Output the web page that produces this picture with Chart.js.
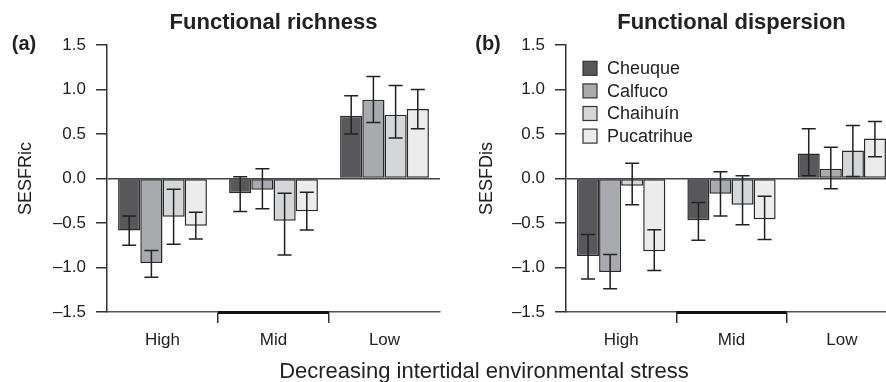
<!DOCTYPE html>
<html>
<head>
<meta charset="utf-8">
<script src="https://cdn.jsdelivr.net/npm/chart.js@4.4.1/dist/chart.umd.min.js"></script>
<style>
  html, body { margin: 0; padding: 0; background: #fff; overflow: hidden; width: 886px; height: 382px; }
  #wrap { position: relative; width: 886px; height: 382px; overflow: hidden; }
  #ca { position: absolute; left: 0; top: 0; }
  #cb { position: absolute; left: 443px; top: 0; }
  #xlab { position: absolute; left: 0; width: 968px; top: 357px; text-align: center;
          font-family: 'Liberation Sans', Arial, sans-serif; font-size: 22px; color: #222; line-height: 28px; }
</style>
</head>
<body>
<div id="wrap">
  <canvas id="ca" width="443" height="382"></canvas>
  <canvas id="cb" width="457" height="382"></canvas>
  <div id="xlab">Decreasing intertidal environmental stress</div>
</div>
<script>
// ---------- DATA ----------
const categories = ['High', 'Mid', 'Low'];
const seriesNames = ['Cheuque', 'Calfuco', 'Chaihuín', 'Pucatrihue'];
const yTicks = [-1.5, -1.0, -0.5, 0.0, 0.5, 1.0, 1.5];

// Functional richness (SESFRic): means, lower and upper error-bar ends
const cheuqueRic     = [-0.585, -0.165, 0.705];
const calfucoRic     = [-0.95, -0.127, 0.885];
const chaihuinRic    = [-0.43, -0.476, 0.717];
const pucatrihueRic  = [-0.53, -0.367, 0.78];
const cheuqueRicLo    = [-0.75, -0.37, 0.50];
const cheuqueRicHi    = [-0.42, 0.02, 0.93];
const calfucoRicLo    = [-1.11, -0.34, 0.63];
const calfucoRicHi    = [-0.81, 0.11, 1.145];
const chaihuinRicLo   = [-0.74, -0.86, 0.455];
const chaihuinRicHi   = [-0.12, -0.165, 1.045];
const pucatrihueRicLo = [-0.68, -0.58, 0.56];
const pucatrihueRicHi = [-0.38, -0.155, 1.0];

// Functional dispersion (SESFDis)
const cheuqueDis     = [-0.87, -0.468, 0.28];
const calfucoDis     = [-1.05, -0.172, 0.11];
const chaihuinDis    = [-0.082, -0.296, 0.315];
const pucatrihueDis  = [-0.817, -0.457, 0.45];
const cheuqueDisLo    = [-1.13, -0.693, 0.03];
const cheuqueDisHi    = [-0.63, -0.27, 0.56];
const calfucoDisLo    = [-1.24, -0.42, -0.115];
const calfucoDisHi    = [-0.855, 0.075, 0.35];
const chaihuinDisLo   = [-0.296, -0.52, 0.022];
const chaihuinDisHi   = [0.17, 0.03, 0.595];
const pucatrihueDisLo = [-1.035, -0.686, 0.244];
const pucatrihueDisHi = [-0.577, -0.2, 0.64];

// ---------- STYLE ----------
const FONT = "'Liberation Sans', Arial, Helvetica, sans-serif";
const barColors = ['#58585a', '#a9aaad', '#d5d6d8', '#ececec'];
const edge = '#2a2a2a';
const textCol = '#222';

function makeDatasets(means, los, his) {
  return means.map((m, i) => ({
    label: seriesNames[i],
    data: m,
    lo: los[i],
    hi: his[i],
    backgroundColor: barColors[i],
    borderColor: edge,
    borderWidth: 1.5,
    borderSkipped: false,
    categoryPercentage: 0.8,
    barPercentage: 1.0
  }));
}

const errorBars = {
  id: 'errorBars',
  afterDatasetsDraw(chart) {
    const ctx = chart.ctx;
    const y = chart.scales.y;
    ctx.save();
    ctx.strokeStyle = '#222';
    ctx.lineWidth = 1.5;
    chart.data.datasets.forEach((ds, i) => {
      const meta = chart.getDatasetMeta(i);
      meta.data.forEach((el, j) => {
        const x = el.x;
        const y1 = y.getPixelForValue(ds.lo[j]);
        const y2 = y.getPixelForValue(ds.hi[j]);
        const cap = 7;
        ctx.beginPath();
        ctx.moveTo(x, y1); ctx.lineTo(x, y2);
        ctx.moveTo(x - cap, y1); ctx.lineTo(x + cap, y1);
        ctx.moveTo(x - cap, y2); ctx.lineTo(x + cap, y2);
        ctx.stroke();
      });
    });
    ctx.restore();
  }
};

const decorations = {
  id: 'decorations',
  afterDraw(chart, args, opts) {
    const ctx = chart.ctx;
    const x = chart.scales.x;
    const area = chart.chartArea;
    ctx.save();
    // thicker middle segment of the x axis line
    ctx.strokeStyle = '#111';
    ctx.lineWidth = 3;
    ctx.beginPath();
    ctx.moveTo(x.getPixelForValue(0.5), area.bottom + 0.5);
    ctx.lineTo(x.getPixelForValue(1.5), area.bottom + 0.5);
    ctx.stroke();
    // panel letter
    ctx.fillStyle = textCol;
    ctx.font = 'bold 20px ' + FONT;
    ctx.textAlign = 'center';
    ctx.textBaseline = 'middle';
    ctx.fillText(opts.letter, opts.letterX, 44);
    // legend
    if (opts.legend) {
      ctx.font = '18px ' + FONT;
      ctx.textAlign = 'left';
      chart.data.datasets.forEach((ds, i) => {
        const cy = 68.3 + i * 22.6;
        ctx.fillStyle = ds.backgroundColor;
        ctx.fillRect(140, cy - 7, 14, 14);
        ctx.strokeStyle = '#333';
        ctx.lineWidth = 1.2;
        ctx.strokeRect(140, cy - 7, 14, 14);
        ctx.fillStyle = textCol;
        ctx.fillText(ds.label, 164, cy + 1);
      });
    }
    ctx.restore();
  }
};

function makeChart(canvasId, datasets, title, yTitle, yWidth, titlePad, letter, letterX, legend) {
  return new Chart(document.getElementById(canvasId), {
    type: 'bar',
    data: { labels: categories, datasets: datasets },
    plugins: [errorBars, decorations],
    options: {
      responsive: false,
      animation: false,
      layout: { padding: { left: 0, right: 3, top: 0, bottom: 0 } },
      plugins: {
        legend: { display: false },
        tooltip: { enabled: false },
        title: {
          display: true, text: title, fullSize: false, color: textCol,
          font: { family: FONT, size: 22, weight: 'bold' },
          padding: { top: 10, bottom: 8.6 }
        },
        decorations: { letter: letter, letterX: letterX, legend: legend }
      },
      scales: {
        x: {
          afterFit: s => { s.height = 70; },
          grid: {
            offset: true, drawOnChartArea: false, drawTicks: true, tickLength: 11, lineWidth: 1.5,
            color: c => (c.index === 1 || c.index === 2) ? '#333' : 'rgba(0,0,0,0)'
          },
          border: { display: true, color: '#555', width: 1.5 },
          ticks: { color: textCol, padding: 7, font: { family: FONT, size: 17 } }
        },
        y: {
          min: -1.5, max: 1.5,
          afterFit: s => { s.width = yWidth; },
          afterBuildTicks: s => { s.ticks = yTicks.map(v => ({ value: v })); },
          grid: {
            drawTicks: true, tickLength: 11, lineWidth: 1.5,
            color: c => (c.tick && c.tick.value === 0) ? '#444' : 'rgba(0,0,0,0)',
            tickColor: '#333'
          },
          border: { display: true, color: '#333', width: 1.5 },
          ticks: {
            color: textCol, padding: 10, font: { family: FONT, size: 17 },
            callback: v => (v < 0 ? '–' : '') + Math.abs(v).toFixed(1)
          },
          title: {
            display: true, text: yTitle, color: textCol,
            font: { family: FONT, size: 18 },
            padding: { top: titlePad, bottom: 0 }
          }
        }
      }
    }
  });
}

makeChart('ca',
  makeDatasets([cheuqueRic, calfucoRic, chaihuinRic, pucatrihueRic],
               [cheuqueRicLo, calfucoRicLo, chaihuinRicLo, pucatrihueRicLo],
               [cheuqueRicHi, calfucoRicHi, chaihuinRicHi, pucatrihueRicHi]),
  'Functional richness', 'SESFRic', 107, 15.5, '(a)', 24, false);

makeChart('cb',
  makeDatasets([cheuqueDis, calfucoDis, chaihuinDis, pucatrihueDis],
               [cheuqueDisLo, calfucoDisLo, chaihuinDisLo, pucatrihueDisLo],
               [cheuqueDisHi, calfucoDisHi, chaihuinDisHi, pucatrihueDisHi]),
  'Functional dispersion', 'SESFDis', 123, 33, '(b)', 45, true);
</script>
</body>
</html>
